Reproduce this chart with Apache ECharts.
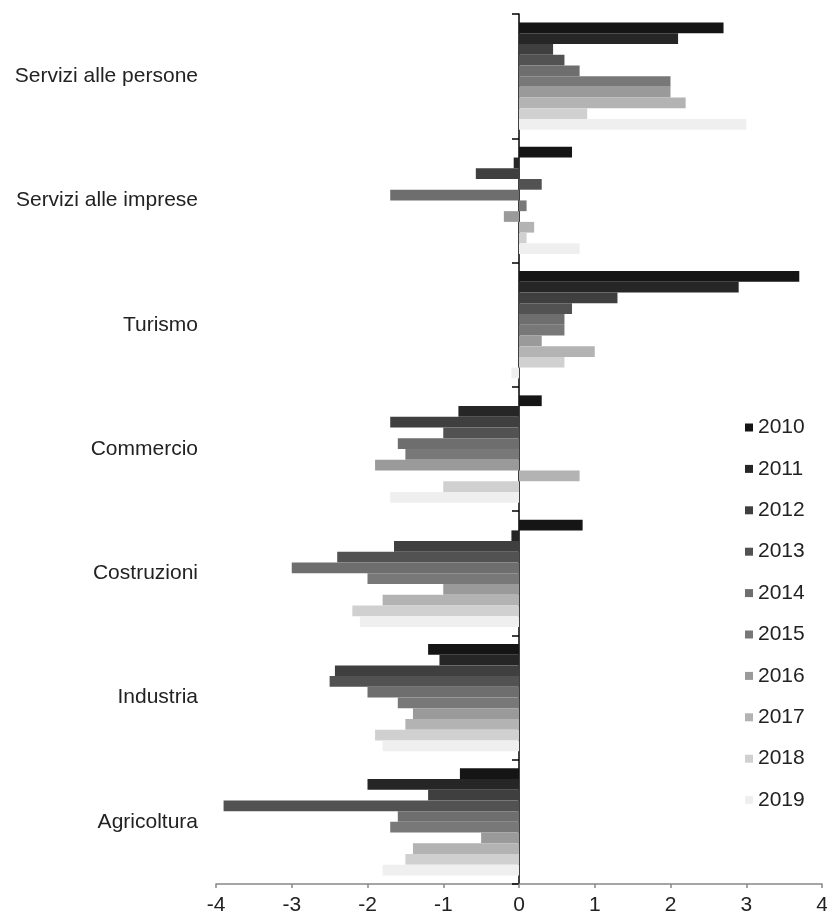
<!DOCTYPE html>
<html>
<head>
<meta charset="utf-8">
<script src="https://cdn.jsdelivr.net/npm/echarts@6/dist/echarts.min.js"></script>
<style>
html,body{margin:0;padding:0;background:#fff;}
#chart{width:827px;height:919px;}
</style>
</head>
<body>
<div id="chart"></div>
<script>
const categories = ["Servizi alle persone", "Servizi alle imprese", "Turismo", "Commercio", "Costruzioni", "Industria", "Agricoltura"];
const years = ["2010","2011","2012","2013","2014","2015","2016","2017","2018","2019"];
const xTicks = [-4,-3,-2,-1,0,1,2,3,4];
// values per year, in category order above
const v2010 = [2.7, 0.7, 3.7, 0.3, 0.84, -1.2, -0.78];
const v2011 = [2.1, -0.07, 2.9, -0.8, -0.1, -1.05, -2.0];
const v2012 = [0.45, -0.57, 1.3, -1.7, -1.65, -2.43, -1.2];
const v2013 = [0.6, 0.3, 0.7, -1.0, -2.4, -2.5, -3.9];
const v2014 = [0.8, -1.7, 0.6, -1.6, -3.0, -2.0, -1.6];
const v2015 = [2.0, 0.1, 0.6, -1.5, -2.0, -1.6, -1.7];
const v2016 = [2.0, -0.2, 0.3, -1.9, -1.0, -1.4, -0.5];
const v2017 = [2.2, 0.2, 1.0, 0.8, -1.8, -1.5, -1.4];
const v2018 = [0.9, 0.1, 0.6, -1.0, -2.2, -1.9, -1.5];
const v2019 = [3.0, 0.8, -0.1, -1.7, -2.1, -1.8, -1.8];
const seriesValues = [v2010, v2011, v2012, v2013, v2014, v2015, v2016, v2017, v2018, v2019];
const colors = ["#151515","#262626","#3f3f3f","#525252","#6e6e6e","#787878","#9a9a9a","#b3b3b3","#d0d0d0","#efefef"];

const font = "'Liberation Sans', Arial, sans-serif";
const chart = echarts.init(document.getElementById('chart'), null, {renderer:'canvas'});
chart.setOption({
  animation: false,
  backgroundColor: '#fff',
  grid: {left: 216, right: 5, top: 14, bottom: 35, containLabel: false, outerBoundsMode: 'none'},
  legend: {
    orient: 'vertical',
    left: 740, top: 412,
    itemWidth: 8, itemHeight: 8, itemGap: 20.4,
    icon: 'rect',
    textStyle: {fontFamily: font, fontSize: 21, color: '#222'},
    data: years
  },
  xAxis: {
    type: 'value', min: -4, max: 4, interval: 1,
    splitLine: {show: false},
    axisLine: {show: true, lineStyle: {color: '#888', width: 1.5}},
    axisTick: {show: true, length: 4, lineStyle: {color: '#888', width: 1.5}},
    axisLabel: {fontFamily: font, fontSize: 21, color: '#222', margin: 11,
      formatter: v => xTicks.includes(v) ? String(v) : ''}
  },
  yAxis: {
    type: 'category', inverse: true, data: categories,
    axisLine: {show: true, onZero: true, lineStyle: {color: '#000', width: 1.5}},
    axisTick: {show: true, length: 7, lineStyle: {color: '#000', width: 1.5}},
    axisLabel: {fontFamily: font, fontSize: 21, color: '#222', margin: 18}
  },
  series: years.map((y, i) => ({
    name: y, type: 'bar', data: seriesValues[i],
    itemStyle: {color: colors[i]},
    barGap: '0%', barCategoryGap: '13.7%'
  }))
});
</script>
</body>
</html>
